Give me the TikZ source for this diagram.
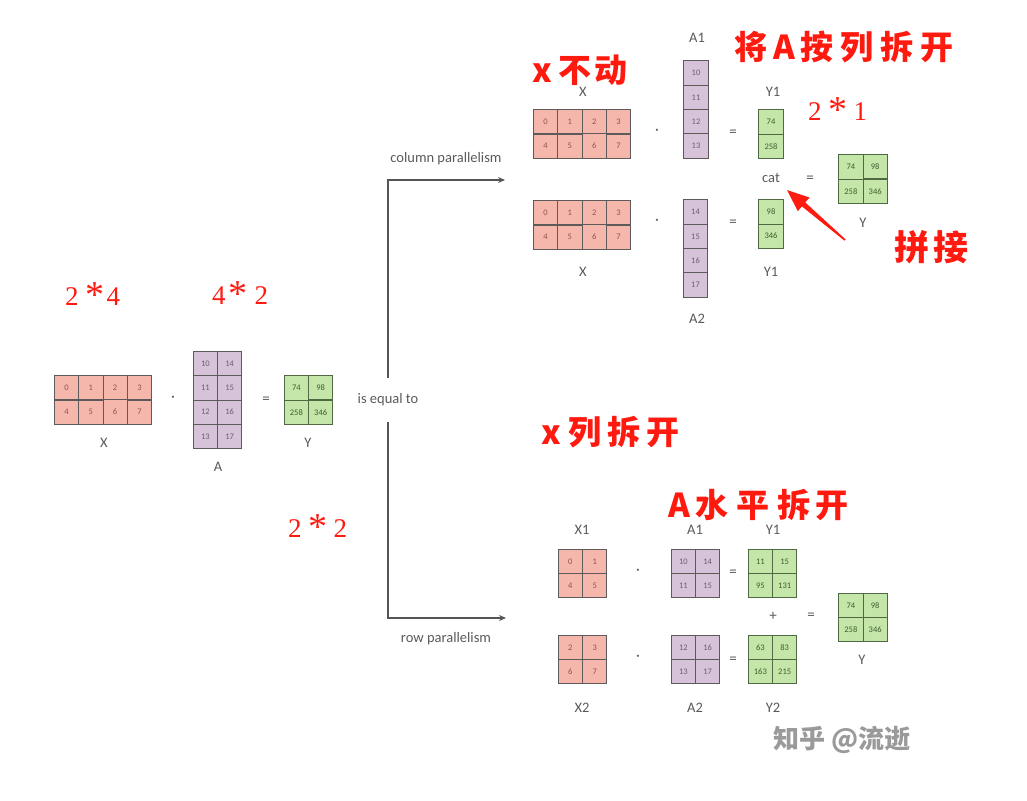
\documentclass[tikz,border=0pt]{standalone}
\usepackage{fontspec}
\setmainfont{Carlito}
\newfontfamily\cjk{Noto Sans CJK SC}
\newfontfamily\rser{Liberation Serif}
\usetikzlibrary{matrix,arrows.meta}
\definecolor{rfill}{HTML}{F5B7AC}
\definecolor{rtext}{HTML}{8A5550}
\definecolor{pfill}{HTML}{D6C3DA}
\definecolor{ptext}{HTML}{6E5C78}
\definecolor{gfill}{HTML}{C4E6A9}
\definecolor{gtext}{HTML}{3F5E2F}
\definecolor{gline}{HTML}{4F6A42}
\definecolor{cellline}{HTML}{5E5A5A}
\definecolor{labc}{HTML}{5A5A5A}
\definecolor{linec}{HTML}{555555}
\definecolor{wm}{HTML}{9A9A9A}
\definecolor{annred}{HTML}{FF1A10}
\newcommand{\bigast}{{\fontsize{38}{38}\selectfont\raisebox{-2pt}{*}}}
\begin{document}
\begin{tikzpicture}[x=1pt,y=-1pt,
  cellbase/.style={draw=cellline, line width=0.9pt, minimum width=24.3pt, minimum height=24.3pt, inner sep=0pt, font=\fontsize{8.5}{8.5}\selectfont},
  rcell/.style={cellbase, fill=rfill, text=rtext},
  pcell/.style={cellbase, fill=pfill, text=ptext},
  gcell/.style={cellbase, fill=gfill, text=gtext, draw=gline},
  rmat/.style={matrix of nodes, inner sep=0pt, column sep=-0.9pt, row sep=-0.9pt, nodes={rcell}},
  pmat/.style={matrix of nodes, inner sep=0pt, column sep=-0.9pt, row sep=-0.9pt, nodes={pcell}},
  gmat/.style={matrix of nodes, inner sep=0pt, column sep=-0.9pt, row sep=-0.9pt, nodes={gcell}},
  lab/.style={font=\fontsize{14.5}{14.5}\selectfont, text=labc, inner sep=1pt},
  op/.style={font=\fontsize{15}{15}\selectfont, text=labc, inner sep=0pt},
  conn/.style={draw=linec, line width=1.3pt},
  note/.style={text=annred, font=\cjk\bfseries\fontsize{33}{33}\selectfont, inner sep=0pt, anchor=west},
  num/.style={text=annred, font=\rser\fontsize{27}{27}\selectfont, inner sep=0pt, anchor=base west},
]
\useasboundingbox (0,0) rectangle (1027,800);
\fill[white] (0,0) rectangle (1027,800);

% ---------- left equation ----------
\matrix (LX) [rmat] at (103,400) {0 & 1 & 2 & 3\\ 4 & 5 & 6 & 7\\};
\node[op] (Ldot) at (173,399) {·};
\matrix (LA) [pmat] at (217.5,400) {10 & 14\\ 11 & 15\\ 12 & 16\\ 13 & 17\\};
\node[op] (Leq) at (266,400) {=};
\matrix (LY) [gmat] at (308.5,400) {74 & 98\\ 258 & 346\\};
\node[lab] (LXl) at (104,443) {X};
\node[lab] (LAl) at (218,467) {A};
\node[lab] (LYl) at (308,443) {Y};

% ---------- connectors ----------
\node[lab, minimum height=44pt] (eq) at (388,400) {is equal to};
\coordinate (ctop) at (388,180);
\coordinate (ctip) at (505,180);
\coordinate (cbot) at (388,618);
\coordinate (rtip) at (506,618);
\draw[conn, -{Stealth[length=7pt,width=6pt]}] (eq.north) -- (ctop) -- (ctip);
\draw[conn, -{Stealth[length=7pt,width=6pt]}] (eq.south) -- (cbot) -- (rtip);
\node[lab] (colp) at (446,159) {column parallelism};
\node[lab] (rowp) at (446,639) {row parallelism};

% ---------- column parallelism ----------
\node[lab] (TX1l) at (583,92) {X};
\matrix (TX1) [rmat] at (582,134) {0 & 1 & 2 & 3\\ 4 & 5 & 6 & 7\\};
\node[op] (Tdot1) at (657,132) {·};
\node[lab] (TA1l) at (697,38) {A1};
\matrix (TA1) [pmat] at (696,109.5) {10\\ 11\\ 12\\ 13\\};
\node[op] (Teq1) at (733,133) {=};
\node[lab] (TY1l) at (773,92) {Y1};
\matrix (TY1) [gmat] at (771,134) {74\\ 258\\};

\node[lab] (cat) at (771,178) {cat};
\node[op] (Teq3) at (810,179) {=};
\matrix (TY) [gmat] at (863,179) {74 & 98\\ 258 & 346\\};
\node[lab] (TYl) at (863,223) {Y};

\matrix (TX2) [rmat] at (582,225) {0 & 1 & 2 & 3\\ 4 & 5 & 6 & 7\\};
\node[op] (Tdot2) at (657,222) {·};
\matrix (TA2) [pmat] at (695.5,248.5) {14\\ 15\\ 16\\ 17\\};
\node[op] (Teq2) at (733,223) {=};
\matrix (TY2) [gmat] at (771,224) {98\\ 346\\};
\node[lab] (TX2l) at (583,272) {X};
\node[lab] (TY2l) at (771,272) {Y1};
\node[lab] (TA2l) at (697,319) {A2};

% ---------- row parallelism ----------
\node[lab] (BX1l) at (582,530) {X1};
\node[lab] (BA1l) at (695,530) {A1};
\node[lab] (BY1l) at (773,530) {Y1};
\matrix (BX1) [rmat] at (582.5,573.5) {0 & 1\\ 4 & 5\\};
\node[op] (Bdot1) at (638,572) {·};
\matrix (BA1) [pmat] at (695.5,573.5) {10 & 14\\ 11 & 15\\};
\node[op] (Beq1) at (733,573) {=};
\matrix (BY1) [gmat] at (772.5,573.5) {11 & 15\\ 95 & 131\\};
\node[op] (Bplus) at (773,616) {+};
\node[op] (Beq3) at (811,616) {=};
\matrix (BY) [gmat] at (863,617.5) {74 & 98\\ 258 & 346\\};
\node[lab] (BYl) at (862,660) {Y};
\matrix (BX2) [rmat] at (582.5,659.5) {2 & 3\\ 6 & 7\\};
\node[op] (Bdot2) at (638,658) {·};
\matrix (BA2) [pmat] at (695.5,659.5) {12 & 16\\ 13 & 17\\};
\node[op] (Beq2) at (733,660) {=};
\matrix (BY2) [gmat] at (772.5,659.5) {63 & 83\\ 163 & 215\\};
\node[lab] (BX2l) at (582,708) {X2};
\node[lab] (BA2l) at (695,708) {A2};
\node[lab] (BY2l) at (773,708) {Y2};

% ---------- red annotations ----------
\node[num] (n24) at (65,305) {2\hspace{7pt}\bigast\hspace{2pt}4};
\node[num] (n42) at (212,304) {4\hspace{3pt}\bigast\hspace{7pt}2};
\node[num] (n22) at (288,537) {2\hspace{7pt}\bigast\hspace{6pt}2};
\node[num] (n21) at (808,120) {2\hspace{7pt}\bigast\hspace{6pt}1};

\node[note] (xbd) at (532,70) {x\hspace{7pt}不\hspace{3pt}动};
\node[note] (splitA) at (734,47) {将\hspace{6pt}A\hspace{6pt}按\hspace{7pt}列\hspace{7pt}拆\hspace{7pt}开};
\node[note] (pinjie) at (894,247) {\fontsize{35}{35}\selectfont 拼\hspace{4pt}接};
\node[note] (xsplit) at (541,432) {x\hspace{8pt}列\hspace{6pt}拆\hspace{6pt}开};
\node[note] (Ahsplit) at (668,505) {A\hspace{6pt}水\hspace{8pt}平\hspace{8pt}拆\hspace{5pt}开};

% red arrow pointing at cat
\fill[annred] (787,190) -- (809.6,197.6) -- (805.2,202.4) -- (845.6,239.4) -- (844.4,240.6) -- (801.9,206.4) -- (797.8,211.2) -- cycle;

% watermark
\node[font=\cjk\bfseries\fontsize{26}{26}\selectfont, text=wm] (wmk) at (842,740) {知乎 @流逝};
\end{tikzpicture}
\end{document}
